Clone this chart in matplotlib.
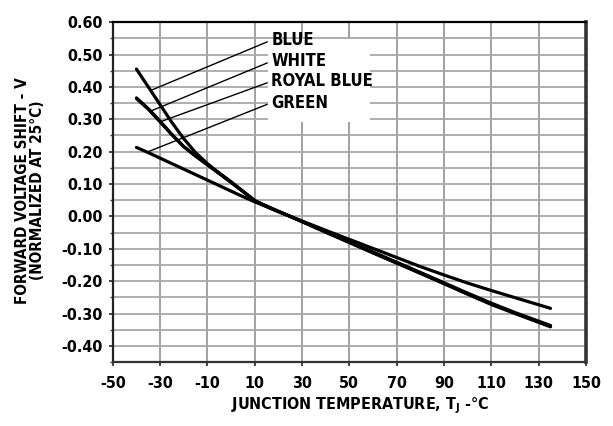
import numpy as np
import matplotlib
matplotlib.use("Agg")
import matplotlib.pyplot as plt
from matplotlib.patches import Rectangle
from matplotlib.ticker import MultipleLocator

plt.rcParams['font.family'] = ['DejaVu Sans']
plt.rcParams['font.stretch'] = 'condensed'
plt.rcParams['font.weight'] = 'bold'

# Data (junction temperature in deg C, forward voltage shift in V)
temps = [-40, -35, -30, -25, -20, -15, -10, -5, 0, 5, 10, 15, 20, 25,
         40, 60, 80, 90, 100, 110, 120, 135]
blue = [0.455, 0.400, 0.345, 0.290, 0.240, 0.197, 0.163, 0.133, 0.105, 0.077, 0.048, 0.031, 0.015, 0.0,
        -0.048, -0.112, -0.175, -0.207, -0.240, -0.272, -0.300, -0.341]
white = [0.366, 0.333, 0.294, 0.253, 0.215, 0.186, 0.160, 0.134, 0.107, 0.078, 0.049, 0.032, 0.016, 0.0,
         -0.049, -0.113, -0.176, -0.208, -0.240, -0.271, -0.299, -0.339]
royal_blue = [0.364, 0.331, 0.292, 0.252, 0.216, 0.187, 0.159, 0.132, 0.105, 0.077, 0.048, 0.031, 0.015, 0.0,
              -0.047, -0.110, -0.173, -0.205, -0.237, -0.268, -0.297, -0.337]
green = [0.213, 0.197, 0.180, 0.163, 0.146, 0.129, 0.112, 0.095, 0.078, 0.061, 0.045, 0.030, 0.015, 0.0,
         -0.043, -0.099, -0.155, -0.181, -0.206, -0.229, -0.251, -0.284]

series_names = ['BLUE', 'WHITE', 'ROYAL BLUE', 'GREEN']
series_values = [blue, white, royal_blue, green]
leader_temps = [-34, -34, -30, -35.5]   # where each label's leader touches its curve

x_ticks = [-50, -30, -10, 10, 30, 50, 70, 90, 110, 130, 150]
y_ticks = [0.60, 0.50, 0.40, 0.30, 0.20, 0.10, 0.00, -0.10, -0.20, -0.30, -0.40]

fig = plt.figure(figsize=(6.13, 4.26), dpi=100)
ax = fig.add_axes([0.184, 0.150, 0.772, 0.798])

ax.set_xlim(-50, 150)
ax.set_ylim(-0.45, 0.60)
ax.set_xticks(x_ticks)
ax.set_xticklabels([str(t) for t in x_ticks])
ax.set_yticks(y_ticks)
ax.set_yticklabels(['%.2f' % v for v in y_ticks])
ax.yaxis.set_minor_locator(MultipleLocator(0.05))

ax.set_axisbelow(True)
ax.grid(True, which='major', axis='x', color='#9a9a9a', lw=1.3)
ax.grid(True, which='both', axis='y', color='#a8a8a8', lw=1.3)

for name, vals in zip(series_names, series_values):
    ax.plot(temps, vals, color='black', lw=2.3, solid_capstyle='round',
            solid_joinstyle='round', zorder=3)

# White box behind the labels
ax.add_patch(Rectangle((0.328, 0.706), 0.215, 0.245, transform=ax.transAxes,
                       facecolor='white', edgecolor='none', zorder=1.5))

label_y = [0.947, 0.885, 0.826, 0.763]
for name, vals, lt, ly in zip(series_names, series_values, leader_temps, label_y):
    yv = np.interp(lt, temps, vals)
    ax.annotate(name, xy=(lt, yv), xycoords='data',
                xytext=(0.335, ly), textcoords='axes fraction',
                ha='left', va='center', fontsize=12, fontweight='bold',
                fontstretch='condensed',
                arrowprops=dict(arrowstyle='-', lw=1.0, color='black',
                                shrinkA=1, shrinkB=0, relpos=(0, 0.5)),
                zorder=4)

ax.tick_params(axis='both', which='major', labelsize=11.5, length=3, width=1.2, color='#222')
ax.tick_params(axis='y', which='minor', length=2.5, width=1.0, color='#444')
ax.tick_params(axis='y', pad=4.5)
ax.tick_params(axis='x', pad=7)
for lab in ax.get_xticklabels() + ax.get_yticklabels():
    lab.set_fontweight('bold')
    lab.set_fontstretch('condensed')

ax.spines['left'].set_linewidth(1.6)
ax.spines['left'].set_color('#222')
ax.spines['right'].set_linewidth(2.6)
ax.spines['right'].set_color('#333')
ax.spines['top'].set_linewidth(1.6)
ax.spines['top'].set_color('black')
ax.spines['bottom'].set_linewidth(1.6)
ax.spines['bottom'].set_color('#333')

ax.set_xlabel('JUNCTION TEMPERATURE, T$_\\mathregular{J}$ -°C', fontsize=11.5,
              fontweight='bold', fontstretch='condensed')
ax.xaxis.set_label_coords(0.522, -0.097)
ax.set_ylabel('FORWARD VOLTAGE SHIFT - V\n(NORMALIZED AT 25°C)', fontsize=11,
              fontweight='bold', fontstretch='condensed', linespacing=1.0)
ax.yaxis.set_label_coords(-0.144, 0.505)

fig.savefig('out.png', dpi=100)
